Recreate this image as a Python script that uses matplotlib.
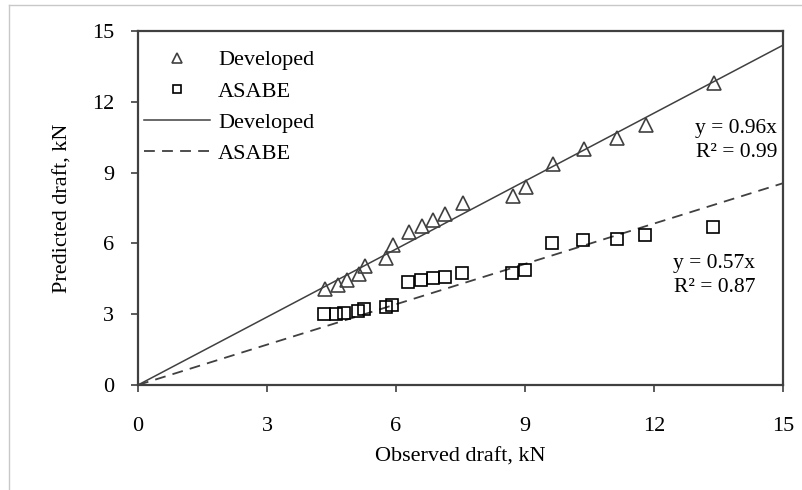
import matplotlib
matplotlib.use('Agg')
import matplotlib.pyplot as plt
from matplotlib.lines import Line2D
import numpy as np

# Observed vs predicted draft (kN)
obs_dev = [4.35, 4.65, 4.86, 5.14, 5.28, 5.77, 5.93, 6.30, 6.60, 6.86, 7.14, 7.56,
           8.72, 9.02, 9.65, 10.37, 11.14, 11.81, 13.40]
pred_dev = [4.07, 4.24, 4.45, 4.70, 5.04, 5.38, 5.93, 6.48, 6.74, 6.99, 7.25, 7.71,
            8.00, 8.39, 9.36, 10.00, 10.47, 11.00, 12.80]
obs_asabe = [4.33, 4.60, 4.80, 5.12, 5.26, 5.77, 5.90, 6.28, 6.58, 6.86, 7.14, 7.53,
             8.70, 9.00, 9.63, 10.35, 11.14, 11.79, 13.37]
pred_asabe = [3.01, 3.00, 3.05, 3.14, 3.20, 3.30, 3.40, 4.36, 4.45, 4.53, 4.58, 4.74,
              4.74, 4.87, 6.00, 6.14, 6.18, 6.36, 6.70]
slope_dev = 0.96
slope_asabe = 0.57
ticks = [0, 3, 6, 9, 12, 15]

plt.rcParams['font.family'] = ['Liberation Serif', 'DejaVu Serif']

fig = plt.figure(figsize=(8.02, 4.90), dpi=100)
ax = fig.add_axes([138 / 802, 1 - 385 / 490, 645 / 802, 354 / 490])

edge = '#404040'
x_line = np.array([0, 15])
ax.plot(obs_dev, pred_dev, linestyle='none', marker='^', markersize=10,
        markerfacecolor='none', markeredgecolor=edge, markeredgewidth=1.2, zorder=3)
ax.plot(obs_asabe, pred_asabe, linestyle='none', marker='s', markersize=8.5,
        markerfacecolor='none', markeredgecolor='black', markeredgewidth=1.2, zorder=3)
ax.plot(x_line, slope_dev * x_line, color=edge, linewidth=1.1)
ax.plot(x_line, slope_asabe * x_line, color=edge, linewidth=1.3, dashes=(6, 4))

ax.set_xlim(0, 15)
ax.set_ylim(0, 15)
ax.set_xticks(ticks)
ax.set_yticks(ticks)
ax.tick_params(axis='x', direction='out', length=5, width=1.2, color=edge,
               labelsize=16, pad=18)
ax.tick_params(axis='y', direction='out', length=5, width=1.2, color=edge,
               labelsize=16, pad=12)
for s in ax.spines.values():
    s.set_color(edge)
    s.set_linewidth(1.6)

ax.set_xlabel('Observed draft, kN', fontsize=16, labelpad=8)
ax.set_ylabel('Predicted draft, kN', fontsize=16, labelpad=14)

ax.text(0.991, 0.69, 'y = 0.96x\nR² = 0.99', transform=ax.transAxes, ha='right',
        va='center', fontsize=15.5, linespacing=1.35)
ax.text(0.957, 0.31, 'y = 0.57x\nR² = 0.87', transform=ax.transAxes, ha='right',
        va='center', fontsize=15.5, linespacing=1.35)

handles = [
    Line2D([], [], linestyle='none', marker='^', markersize=7, markerfacecolor='none',
           markeredgecolor=edge, markeredgewidth=1.2),
    Line2D([], [], linestyle='none', marker='s', markersize=6, markerfacecolor='none',
           markeredgecolor='black', markeredgewidth=1.2),
    Line2D([], [], color=edge, linewidth=1.1),
    Line2D([], [], color=edge, linewidth=1.3, dashes=(6, 4)),
]
ax.legend(handles, ['Developed', 'ASABE', 'Developed', 'ASABE'], loc='upper left',
          bbox_to_anchor=(0.009, 0.947), frameon=False, fontsize=16, borderpad=0,
          borderaxespad=0, handlelength=3.0, handletextpad=0.35, labelspacing=0.48)

# light outer border of the chart area
fig.add_artist(Line2D([9 / 802, 9 / 802], [0, 1 - 5 / 490], transform=fig.transFigure,
                      color='#c8c8c8', linewidth=1))
fig.add_artist(Line2D([9 / 802, 1], [1 - 5 / 490, 1 - 5 / 490], transform=fig.transFigure,
                      color='#c8c8c8', linewidth=1))

fig.savefig('out.png', dpi=100)
